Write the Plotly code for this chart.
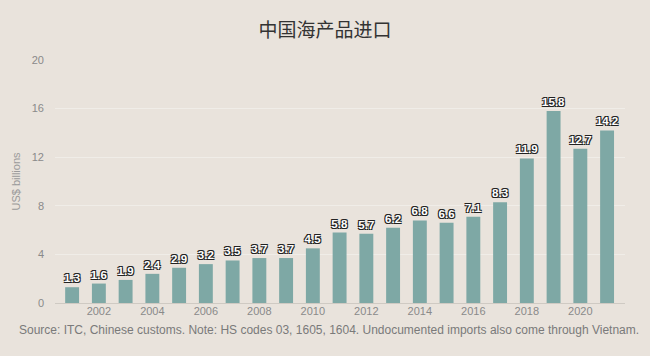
import plotly.graph_objects as go

years = list(range(2001, 2022))
values = [1.3, 1.6, 1.9, 2.4, 2.9, 3.2, 3.5, 3.7, 3.7, 4.5, 5.8, 5.7, 6.2, 6.8, 6.6, 7.1, 8.3, 11.9, 15.8, 12.7, 14.2]
labels = [f"{v:.1f}" for v in values]
x_ticks = list(range(2002, 2021, 2))
y_ticks = [0, 4, 8, 12, 16, 20]

title = "中国海产品进口"
y_title = "US$ billions"
source = "Source: ITC, Chinese customs. Note: HS codes 03, 1605, 1604. Undocumented imports also come through Vietnam."

bg = "#e9e3dc"
fig = go.Figure()
fig.add_trace(go.Bar(
    x=years, y=values, width=0.52,
    marker=dict(color="#7ea8a5", line=dict(width=0)),
    text=labels, textposition="outside", cliponaxis=False,
    constraintext="none", textangle=0,
    textfont=dict(family="Liberation Sans, Arial", size=11.5, color="white",
                  weight="bold",
                  shadow="1px 1px 0 #222, -1px -1px 0 #222, 1px -1px 0 #222, -1px 1px 0 #222"),
))
fig.update_layout(
    width=650, height=356,
    paper_bgcolor=bg, plot_bgcolor=bg,
    margin=dict(l=55, r=25, t=60, b=53),
    title=dict(text=title, x=0.5, xanchor="center", y=0.915, yanchor="middle",
               font=dict(family="Noto Sans CJK SC", size=19, color="#333333")),
    showlegend=False,
    font=dict(family="Liberation Sans, Arial", color="#8a8a8a", size=11),
    bargap=0.4,
)
fig.update_xaxes(range=[2000.36, 2021.67], tickvals=x_ticks, showgrid=False,
                 showline=False, zeroline=False, ticks="", ticklen=0,
                 tickfont=dict(size=11, color="#8a8a8a"))
fig.update_yaxes(range=[0, 20], tickvals=y_ticks, showgrid=True,
                 gridcolor="rgba(255,255,255,0.35)", gridwidth=1,
                 zeroline=True, zerolinecolor="#cfcac3", zerolinewidth=1,
                 ticks="", ticklabelstandoff=10,
                 title=dict(text=y_title, font=dict(size=11, color="#9a9a9a"), standoff=8),
                 tickfont=dict(size=11, color="#8a8a8a"))
fig.add_annotation(text=source, xref="paper", yref="paper", x=-0.066, y=-0.11,
                   xanchor="left", yanchor="middle", showarrow=False,
                   font=dict(size=12, color="#7a7a7a"))
fig.write_html("out.html", config={"displayModeBar": False},
               post_script="document.body.style.margin='0';")
